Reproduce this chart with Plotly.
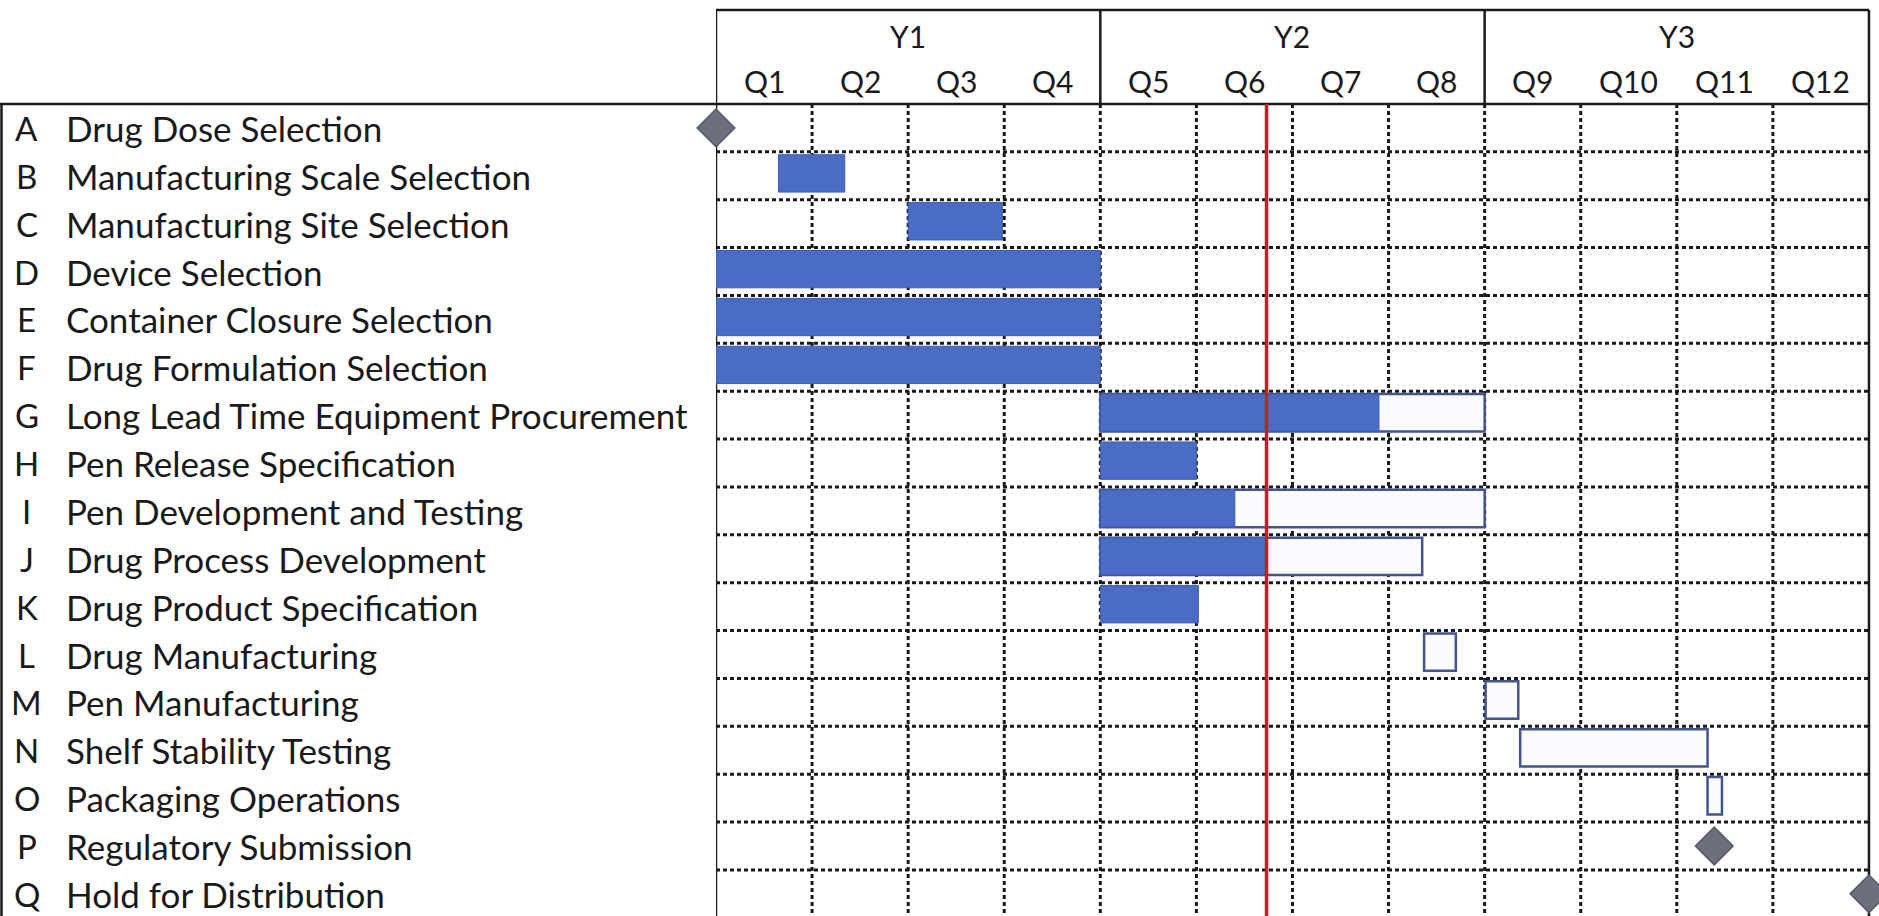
import plotly.graph_objects as go

# ---------------- data ----------------
letters = list("ABCDEFGHIJKLMNOPQ")
tasks = [
    "Drug Dose Selection",
    "Manufacturing Scale Selection",
    "Manufacturing Site Selection",
    "Device Selection",
    "Container Closure Selection",
    "Drug Formulation Selection",
    "Long Lead Time Equipment Procurement",
    "Pen Release Specification",
    "Pen Development and Testing",
    "Drug Process Development",
    "Drug Product Specification",
    "Drug Manufacturing",
    "Pen Manufacturing",
    "Shelf Stability Testing",
    "Packaging Operations",
    "Regulatory Submission",
    "Hold for Distribution",
]
years = ["Y1", "Y2", "Y3"]
quarters = ["Q1", "Q2", "Q3", "Q4", "Q5", "Q6", "Q7", "Q8", "Q9", "Q10", "Q11", "Q12"]

# planned spans (outlined), in quarters from project start
plan_tasks = ["G", "I", "J", "L", "M", "N", "O"]
plan_start = [4.0, 4.0, 4.0, 7.37, 8.01, 8.37, 10.32]
plan_end = [8.0, 8.0, 7.35, 7.70, 8.35, 10.32, 10.47]

# completed spans (filled)
done_tasks = ["B", "C", "D", "E", "F", "G", "H", "I", "J", "K"]
done_start = [0.65, 2.0, 0.0, 0.0, 0.0, 4.0, 4.0, 4.0, 4.0, 4.0]
done_end = [1.34, 2.98, 4.0, 4.0, 4.0, 6.90, 5.0, 5.40, 5.73, 5.02]

# milestones
mile_tasks = ["A", "P", "Q"]
mile_x = [0.0, 10.39, 12.0]

status_date = 5.73

# ---------------- layout constants ----------------
W, H = 1879, 916
ML, MT = 716, 104
PW = W - ML
ROW = 47.87
N = len(letters)
XMAX = 12 + (W - ML - 12 * 96.08) / 96.08
Y_TOP = -0.5
Y_BOT = -0.5 + (H - MT) / ROW
HDR_TOP = 1 + (MT - 10) / (H - MT)

FONT = "Lato"
TXT = "#1a1a1a"
BLUE = "#4A6CC4"
NAVY = "#46548C"
LINE = "#1a1a1a"

row_of = {l: i for i, l in enumerate(letters)}
BW = 0.78
OFF = -BW / 2 - 0.05

fig = go.Figure()

fig.add_trace(go.Bar(
    orientation="h",
    y=[row_of[t] for t in plan_tasks],
    base=plan_start,
    x=[e - s for s, e in zip(plan_start, plan_end)],
    width=BW, offset=OFF,
    marker=dict(color="#FBFCFF", line=dict(color=NAVY, width=2.5)),
    showlegend=False, hoverinfo="skip",
))
fig.add_trace(go.Bar(
    orientation="h",
    y=[row_of[t] for t in done_tasks],
    base=done_start,
    x=[e - s for s, e in zip(done_start, done_end)],
    width=BW, offset=OFF,
    marker=dict(color=BLUE, line=dict(color="#3D5AAE", width=1)),
    showlegend=False, hoverinfo="skip",
))
fig.add_trace(go.Scatter(
    x=mile_x, y=[row_of[t] for t in mile_tasks],
    mode="markers",
    marker=dict(symbol="diamond", size=29, color="#6C707D",
                line=dict(color="#555966", width=1.5)),
    cliponaxis=False, showlegend=False, hoverinfo="skip",
))

shapes = []
dot = dict(color=LINE, width=3, dash="4px,3px")
# vertical dotted grid
for q in range(1, 12):
    shapes.append(dict(type="line", xref="x", yref="y", x0=q, x1=q,
                       y0=Y_TOP, y1=Y_BOT, line=dot, layer="below"))
# horizontal dotted grid
for r in range(N - 1):
    shapes.append(dict(type="line", xref="x", yref="y", x0=0, x1=12,
                       y0=r + 0.5, y1=r + 0.5, line=dot, layer="below"))

solid = dict(color=LINE, width=2.5)
# outer borders of the grid
for xv in [0, 12]:
    shapes.append(dict(type="line", xref="x", yref="paper", x0=xv, x1=xv,
                       y0=0, y1=HDR_TOP, line=solid, layer="below"))
for xv in [4, 8]:
    shapes.append(dict(type="line", xref="x", yref="paper", x0=xv, x1=xv,
                       y0=1, y1=HDR_TOP, line=solid, layer="below"))
shapes.append(dict(type="line", xref="x", yref="paper", x0=0, x1=12,
                   y0=HDR_TOP, y1=HDR_TOP, line=solid, layer="below"))
# header bottom line across label column
shapes.append(dict(type="line", xref="paper", yref="paper",
                   x0=-ML / PW, x1=12 / XMAX, y0=1, y1=1, line=solid, layer="below"))
# left edge of label column
shapes.append(dict(type="line", xref="paper", yref="paper",
                   x0=-(ML - 1.5) / PW, x1=-(ML - 1.5) / PW, y0=0, y1=1,
                   line=solid, layer="below"))
# status date line
shapes.append(dict(type="line", xref="x", yref="y", x0=status_date, x1=status_date,
                   y0=Y_TOP, y1=Y_BOT, line=dict(color="#C21F26", width=3.5),
                   layer="above"))

ann = []
for i, (l, t) in enumerate(zip(letters, tasks)):
    ann.append(dict(xref="paper", yref="y", x=-(ML - 27) / PW, y=i, text=l,
                    showarrow=False, xanchor="center", yanchor="middle",
                    font=dict(family=FONT, size=33, color=TXT)))
    ann.append(dict(xref="paper", yref="y", x=-(ML - 64) / PW, y=i, text=t,
                    showarrow=False, xanchor="left", yanchor="middle",
                    font=dict(family=FONT, size=35, color=TXT)))
for k, yl in enumerate(years):
    ann.append(dict(xref="x", yref="paper", x=4 * k + 2, y=1 + 68 / (H - MT), text=yl,
                    showarrow=False, xanchor="center", yanchor="middle",
                    font=dict(family=FONT, size=30, color=TXT)))
for k, ql in enumerate(quarters):
    ann.append(dict(xref="x", yref="paper", x=k + 0.5, y=1 + 23 / (H - MT), text=ql,
                    showarrow=False, xanchor="center", yanchor="middle",
                    font=dict(family=FONT, size=30, color=TXT)))

fig.update_layout(
    width=W, height=H,
    margin=dict(l=ML, r=0, t=MT, b=0, pad=0),
    paper_bgcolor="white", plot_bgcolor="white",
    barmode="overlay",
    showlegend=False,
    xaxis=dict(range=[0, XMAX], showgrid=False, zeroline=False, showticklabels=False,
               ticks="", showline=False, fixedrange=True),
    yaxis=dict(range=[Y_BOT, Y_TOP], showgrid=False, zeroline=False, showticklabels=False,
               ticks="", showline=False, fixedrange=True),
    shapes=shapes,
    annotations=ann,
)

fig.write_html("out.html", config={"displayModeBar": False})
